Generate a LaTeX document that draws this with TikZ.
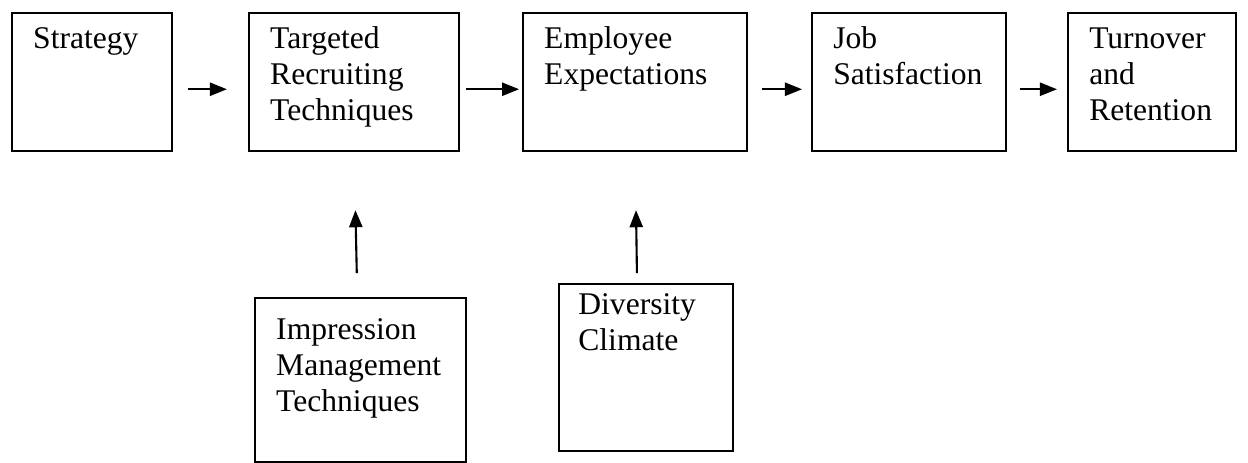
\documentclass[tikz,border=0pt]{standalone}
\usepackage{fontspec}
\setmainfont{Liberation Serif}
\usetikzlibrary{arrows.meta}

\begin{document}
\begin{tikzpicture}[x=0.38pt, y=-0.38pt,
    box/.style={draw, line width=0.9pt, anchor=north west, align=left,
      font=\fontsize{12pt}{13.8pt}\selectfont, inner xsep=8pt, inner ysep=0pt,
      text height=13.3pt, text depth=39.1pt},
    arr/.style={-{Triangle[length=6.5pt, width=5pt]}, line width=0.8pt}]
  \useasboundingbox (0, 0) rectangle (1248, 462);

  \node[box, text width=44.8pt] (strat) at (11, 12) {Strategy};
  \node[box, text width=63.8pt] (targ) at (248, 12) {Targeted\\Recruiting\\Techniques};
  \node[box, text width=69.1pt] (emp) at (522, 12) {Employee\\Expectations};
  \node[box, text width=57.7pt] (job) at (811, 12) {Job\\Satisfaction};
  \node[box, text width=47.8pt] (turn) at (1067, 12) {Turnover\\and\\Retention};

  \node[box, text width=64.2pt, text height=15.6pt, text depth=46.7pt] (imp) at (254, 297)
    {Impression\\Management\\Techniques};
  \node[box, text width=51.4pt, inner xsep=7.3pt, text height=11.4pt, text depth=52.1pt] (div) at (558, 283)
    {Diversity\\Climate};

  \draw[arr, shorten <=5.7pt, shorten >=8pt] ([yshift=-2.7pt]strat.east) -- ([yshift=-2.7pt]targ.west);
  \draw[arr, shorten <=2.3pt, shorten >=1.1pt] ([yshift=-2.7pt]targ.east) -- ([yshift=-2.7pt]emp.west);
  \draw[arr, shorten <=5.3pt, shorten >=3.4pt] ([yshift=-2.7pt]emp.east) -- ([yshift=-2.7pt]job.west);
  \draw[arr, shorten <=4.9pt, shorten >=3.8pt] ([yshift=-2.7pt]job.east) -- ([yshift=-2.7pt]turn.west);

  \draw[arr, shorten <=9.1pt, shorten >=22pt] ([xshift=-1.3pt]imp.north) -- (targ.south);
  \draw[arr, shorten <=3.8pt, shorten >=22pt] ([xshift=-3.4pt]div.north) -- (emp.south);
\end{tikzpicture}
\end{document}
